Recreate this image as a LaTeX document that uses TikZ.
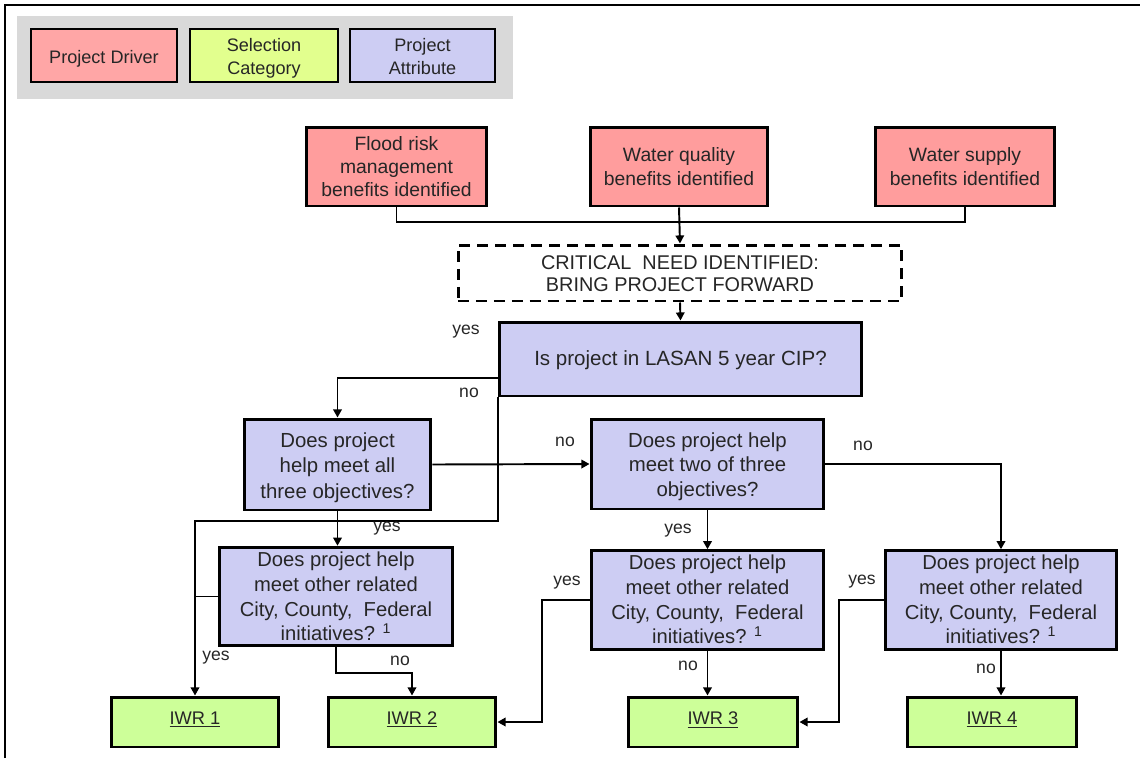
\documentclass[tikz,border=0pt]{standalone}
\usepackage{fontspec}
\setmainfont{Liberation Sans}
\usetikzlibrary{arrows.meta,calc}

\definecolor{driverfill}{HTML}{FF9D9D}
\definecolor{legdriverfill}{HTML}{FFA6A6}
\definecolor{catfill}{HTML}{CDFF99}
\definecolor{legcatfill}{HTML}{E2FF8E}
\definecolor{attrfill}{HTML}{CDCDF3}
\definecolor{legendgray}{HTML}{D9D9D9}
\definecolor{inktext}{HTML}{262626}

% centred lines, moved vertically while keeping the box size
\newcommand{\movedlines}[2]{\raisebox{#1}[\height][\depth]{\begin{tabular}{@{}c@{}}#2\end{tabular}}}

\tikzset{
  box/.style={draw=black, line width=1.7pt, align=center, inner sep=0pt, text=inktext},
  legendbox/.style={draw=black, line width=1.4pt, align=center, inner sep=0pt, text=inktext,
    minimum height=1.06cm, font=\fontsize{10.3}{13}\selectfont},
  driverbox/.style={box, fill=driverfill, minimum height=1.58cm, font=\fontsize{11}{13.3}\selectfont},
  attrbox/.style={box, fill=attrfill, font=\fontsize{11.5}{14}\selectfont},
  catbox/.style={box, fill=catfill, minimum height=1cm, font=\fontsize{10.4}{12}\selectfont},
  critbox/.style={draw=black, line width=1.7pt, dash pattern=on 6.2pt off 4pt, fill=white,
    align=center, inner sep=0pt, text=inktext, font=\fontsize{11.3}{13}\selectfont},
  conn/.style={draw=black, line width=1.1pt},
  arr/.style={conn, -{Triangle[length=4.6pt,width=4.8pt]}},
  lbl/.style={inner sep=0pt, text=inktext, font=\fontsize{10}{12}\selectfont},
}

\begin{document}
\begin{tikzpicture}[x=0.02cm, y=-0.02cm]
\useasboundingbox (0,0) rectangle (1140,758);

% page frame (top and left edges)
\draw[line width=1.3pt] (5,758) -- (5,5) -- (1140,5);

% legend
\node[fill=legendgray, minimum width=9.92cm, minimum height=1.66cm, inner sep=0pt] (legendbg) at (265,57.5) {};
\node[legendbox, fill=legdriverfill, minimum width=2.92cm] (legPD) at (104,55.5) {\movedlines{-1.7pt}{Project Driver}};
\node[legendbox, fill=legcatfill, minimum width=2.96cm] (legSC) at (264,55.5) {\movedlines{-1.7pt}{Selection\\Category}};
\node[legendbox, fill=attrfill, minimum width=2.90cm] (legPA) at (422.5,55.5) {\movedlines{-1.7pt}{Project\\Attribute}};

% project drivers
\node[driverbox, minimum width=3.62cm] (flood) at (396.5,166.5) {Flood risk\\management\\benefits identified};
\node[driverbox, minimum width=3.56cm] (wq) at (679,166.5) {Water quality\\benefits identified};
\node[driverbox, minimum width=3.60cm] (ws) at (965,166.5) {Water supply\\benefits identified};

% critical need
\node[critbox, minimum width=8.88cm, minimum height=1.12cm] (crit) at (680,273) {\movedlines{-1.7pt}{CRITICAL~ NEED IDENTIFIED:\\BRING PROJECT FORWARD}};

% questions
\node[attrbox, minimum width=7.26cm, minimum height=1.48cm, font=\fontsize{11.7}{14}\selectfont] (lasan) at (680.5,359) {\movedlines{-1.1pt}{Is project in LASAN 5 year CIP?}};
\node[attrbox, minimum width=3.74cm, minimum height=1.82cm, font=\fontsize{11.6}{14.5}\selectfont] (q1) at (337.5,464.5) {\movedlines{-1.7pt}{Does project\\help meet all\\three objectives?}};
\node[attrbox, minimum width=4.66cm, minimum height=1.80cm, font=\fontsize{11.6}{14.2}\selectfont] (q2) at (707.5,464) {\movedlines{-1.7pt}{Does project help\\meet two of three\\objectives?}};
\node[attrbox, minimum width=4.68cm, minimum height=1.90cm] (q3a) at (336,596.5) {\movedlines{-1.4pt}{Does project help\\meet other related\\City, County,~~Federal\\initiatives? \textsuperscript{1}}};
\node[attrbox, minimum width=4.66cm, minimum height=1.92cm] (q3b) at (707.5,600) {\movedlines{-1.1pt}{Does project help\\meet other related\\City, County,~~Federal\\initiatives? \textsuperscript{1}}};
\node[attrbox, minimum width=4.64cm, minimum height=1.92cm] (q3c) at (1001,600) {\movedlines{-1.1pt}{Does project help\\meet other related\\City, County,~~Federal\\initiatives? \textsuperscript{1}}};

% selection categories
\node[catbox, minimum width=3.36cm] (iwr1) at (195,722) {\movedlines{1.1pt}{\underline{IWR 1}}};
\node[catbox, minimum width=3.36cm] (iwr2) at (412,722) {\movedlines{1.1pt}{\underline{IWR 2}}};
\node[catbox, minimum width=3.40cm] (iwr3) at (713,722) {\movedlines{1.1pt}{\underline{IWR 3}}};
\node[catbox, minimum width=3.40cm] (iwr4) at (992,722) {\movedlines{1.1pt}{\underline{IWR 4}}};

% drivers feed the critical need box
\coordinate (bus) at (680,222);
\draw[conn] (flood.south) |- (bus) -| (ws.south);
\draw[arr] (wq.south) -- (crit.north);
\draw[arr] (crit.south) -- (lasan.north);

% LASAN CIP question
\coordinate (yesbend) at (196,521);
\draw[arr] (lasan.south west) |- (yesbend) -| (iwr1.north);
\draw[arr] ($(lasan.west)+(0,19)$) -| (q1.north);

% all three objectives
\draw[arr] (q1.east) -- (q2.west);
\draw[arr] (q1.south) -- (q1.south |- q3a.north);

% two of three objectives
\draw[arr] (q2.east) -| (q3c.north);
\draw[arr] (q2.south) -- (q2.south |- q3b.north);

% related initiatives
\draw[conn] (q3a.west) -- (q3a.west -| yesbend);
\draw[arr] (q3a.south) -- ++(0,26) -| (iwr2.north);
\draw[arr] (q3b.west) -- ++(-48,0) |- (iwr2.east);
\draw[arr] (q3b.south) -- (q3b.south |- iwr3.north);
\draw[arr] (q3c.west) -- ++(-45,0) |- (iwr3.east);
\draw[arr] (q3c.south) -- (q3c.south |- iwr4.north);

% branch labels
\node[lbl] (lyes0) at (466,332) {yes};
\node[lbl] (lno0) at (469,393) {no};
\node[lbl] (lno1) at (565,442) {no};
\node[lbl] (lyes1) at (387,529) {yes};
\node[lbl] (lno2) at (863,446) {no};
\node[lbl] (lyes2) at (678,531) {yes};
\node[lbl] (lyes3) at (216,658) {yes};
\node[lbl] (lno3) at (400,661) {no};
\node[lbl] (lyes4) at (567,583) {yes};
\node[lbl] (lno4) at (688,666) {no};
\node[lbl] (lyes5) at (862,582) {yes};
\node[lbl] (lno5) at (986,669) {no};
\end{tikzpicture}
\end{document}
